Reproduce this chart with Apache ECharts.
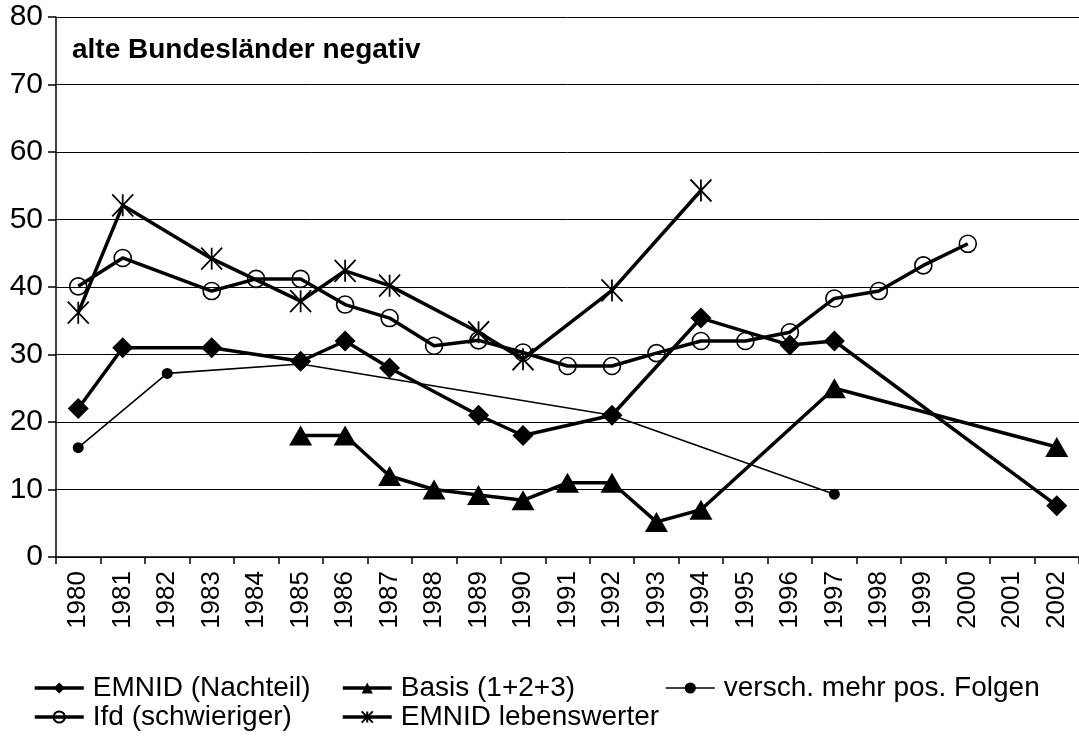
<!DOCTYPE html>
<html>
<head>
<meta charset="utf-8">
<script src="https://cdn.jsdelivr.net/npm/echarts@6/dist/echarts.min.js"></script>
<style>
  html, body { margin: 0; padding: 0; background: #fff; }
  #chart { width: 1079px; height: 736px; }
</style>
</head>
<body>
<div id="chart"></div>
<script>
// years on the x axis
const years = ['1980', '1981', '1982', '1983', '1984', '1985', '1986', '1987', '1988', '1989', '1990', '1991',
    '1992', '1993', '1994', '1995', '1996', '1997', '1998', '1999', '2000', '2001', '2002'];

const emnidNachteil = [22, 31, null, 31, null, 29, 32, 28, null, 21, 18, null,
    21, null, 35.4, null, 31.4, 32, null, null, null, null, 7.6];
const basis = [null, null, null, null, null, 18, 18, 12, 10, 9.2, 8.4, 11,
    11, 5.2, 7, null, null, 25, null, null, null, null, 16.3];
const versch = [16.2, null, 27.2, null, null, 28.6, null, null, null, null, null, null,
    21, null, null, null, null, 9.3, null, null, null, null, null];
const ifd = [40.1, 44.3, null, 39.4, 41.2, 41.2, 37.4, 35.4, 31.3, 32.1, 30.3, 28.3,
    28.3, 30.2, 32, 32, 33.3, 38.3, 39.4, 43.2, 46.4, null, null];
const emnidLeben = [36.2, 52.1, null, 44.2, null, 37.9, 42.4, 40.2, null, 33.3, 29.3, null,
    39.5, null, 54.3, null, null, null, null, null, null, null, null];

const yTicks = { min: 0, max: 80, interval: 10 };

const starPath = 'path://M0,0L20,20M20,0L0,20M10,0L10,20';
const FONT = 'Liberation Sans, Arial, sans-serif';

function legendAt(name, left, top, lineWidth) {
    return {
        data: [name],
        left: left,
        top: top,
        orient: 'horizontal',
        itemWidth: 49,
        itemHeight: 14,
        lineStyle: { width: lineWidth },
        textStyle: { fontFamily: FONT, fontSize: 28, color: '#000', padding: [0, 0, 0, 4] }
    };
}

var chart = echarts.init(document.getElementById('chart'), null, { renderer: 'canvas' });

var option = {
    animation: false,
    backgroundColor: '#fff',
    title: {
        text: 'alte Bundesländer negativ',
        left: 67,
        top: 31,
        textStyle: { fontFamily: FONT, fontSize: 28, fontWeight: 'bold', color: '#000' }
    },
    grid: { left: 56, right: -3, top: 17, bottom: 179, containLabel: false },
    legend: [
        legendAt('EMNID (Nachteil)', 28, 669, 3.5),
        legendAt('Basis (1+2+3)', 336, 669, 3.5),
        legendAt('versch. mehr pos. Folgen', 660, 669, 1.6),
        legendAt('Ifd (schwieriger)', 28, 698, 3.5),
        legendAt('EMNID lebenswerter', 336, 698, 3.5)
    ],
    xAxis: {
        type: 'category',
        data: years,
        boundaryGap: true,
        axisLine: { lineStyle: { color: '#000', width: 1.5 } },
        axisTick: { show: true, length: 7, lineStyle: { color: '#000', width: 1.5 } },
        axisLabel: { interval: 0, rotate: 90, margin: 14, fontFamily: FONT, fontSize: 26, color: '#000' },
        splitLine: { show: false }
    },
    yAxis: {
        type: 'value',
        min: yTicks.min,
        max: yTicks.max,
        interval: yTicks.interval,
        axisLine: { show: true, lineStyle: { color: '#000', width: 1.5 } },
        axisTick: { show: true, length: 8, lineStyle: { color: '#000', width: 1.5 } },
        axisLabel: { margin: 13, fontFamily: FONT, fontSize: 30, color: '#000' },
        splitLine: { lineStyle: { color: '#000', width: 1 } }
    },
    series: [
        {
            name: 'versch. mehr pos. Folgen',
            type: 'line',
            data: versch,
            connectNulls: true,
            symbol: 'circle',
            symbolSize: 11,
            lineStyle: { color: '#000', width: 1.6 },
            itemStyle: { color: '#000' }
        },
        {
            name: 'Basis (1+2+3)',
            type: 'line',
            data: basis,
            connectNulls: true,
            symbol: 'triangle',
            symbolSize: [23, 20],
            lineStyle: { color: '#000', width: 3.5 },
            itemStyle: { color: '#000' }
        },
        {
            name: 'EMNID (Nachteil)',
            type: 'line',
            data: emnidNachteil,
            connectNulls: true,
            symbol: 'diamond',
            symbolSize: [21, 21],
            lineStyle: { color: '#000', width: 3.5 },
            itemStyle: { color: '#000' }
        },
        {
            name: 'Ifd (schwieriger)',
            type: 'line',
            data: ifd,
            connectNulls: true,
            symbol: 'circle',
            symbolSize: 17,
            lineStyle: { color: '#000', width: 3.5 },
            itemStyle: { color: 'rgba(0,0,0,0)', borderColor: '#000', borderWidth: 1.6 }
        },
        {
            name: 'EMNID lebenswerter',
            type: 'line',
            data: emnidLeben,
            connectNulls: true,
            symbol: starPath,
            symbolSize: [21, 22],
            lineStyle: { color: '#000', width: 3.5 },
            itemStyle: { color: '#000', borderColor: '#000', borderWidth: 1.8 }
        }
    ]
};

chart.setOption(option);
</script>
</body>
</html>
